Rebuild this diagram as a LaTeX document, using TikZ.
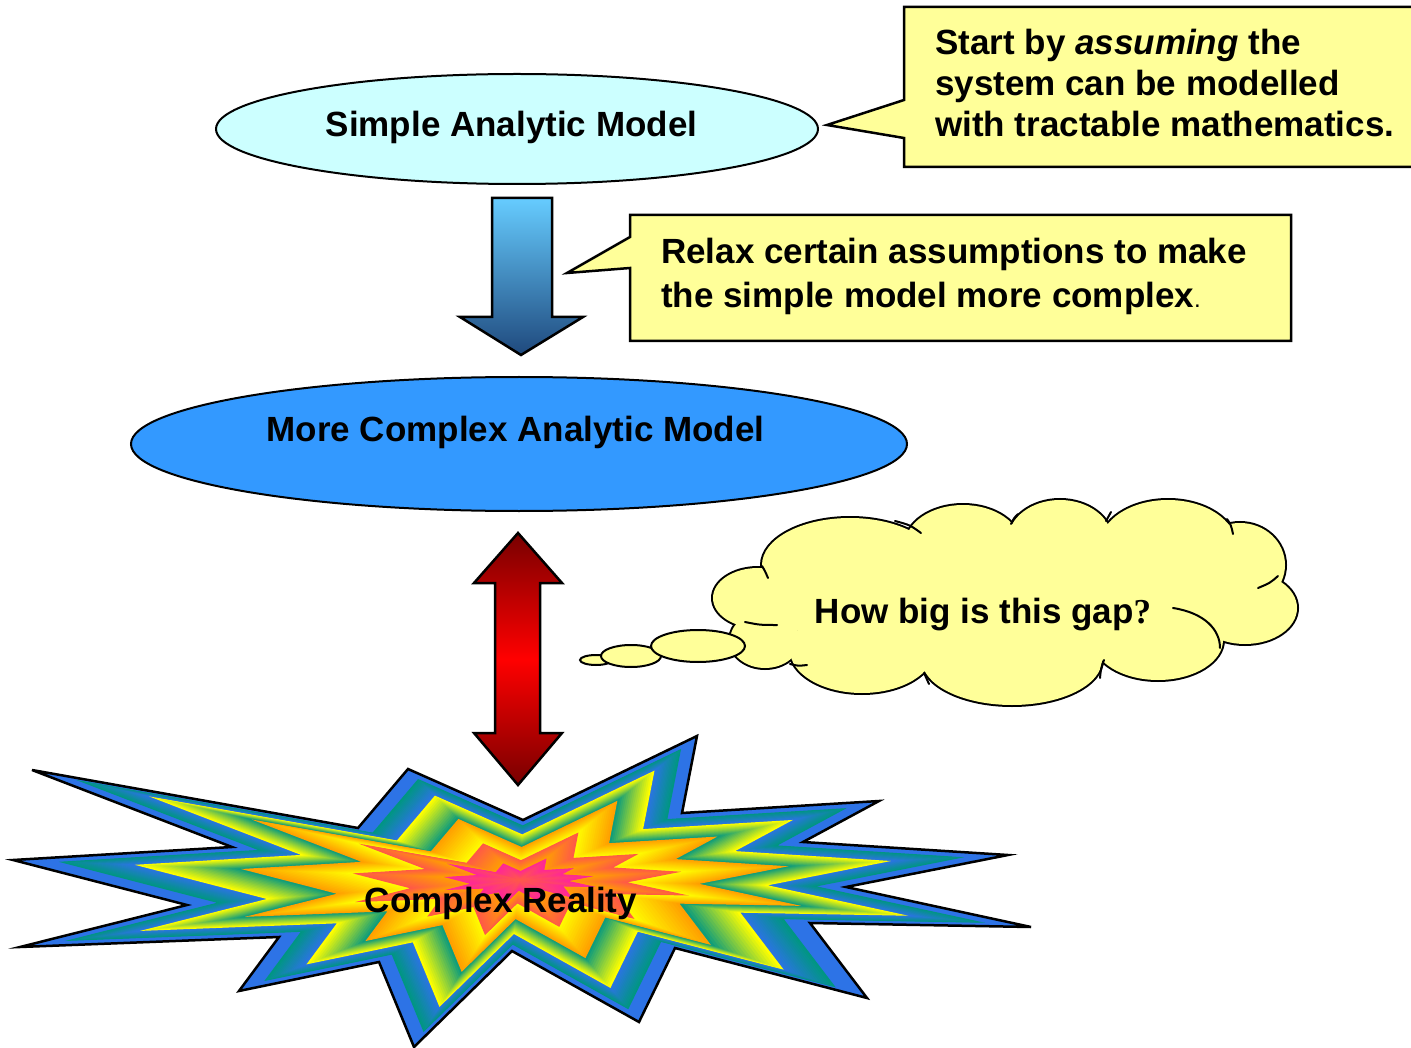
\documentclass[tikz,border=0pt]{standalone}
\usepackage{fontspec}
\setmainfont{Liberation Sans}
\newfontfamily\serifq{Liberation Serif}
\usetikzlibrary{shapes.geometric}
\definecolor{lightcyan}{RGB}{204,255,255}
\definecolor{midblue}{RGB}{51,153,255}
\definecolor{noteyellow}{RGB}{255,255,153}
\definecolor{arrowtop}{RGB}{102,204,255}
\definecolor{arrowbot}{RGB}{31,73,125}
\definecolor{darkred}{RGB}{120,0,0}
\definecolor{cBlue}{RGB}{45,115,230}
\definecolor{cTeal}{RGB}{0,150,130}
\definecolor{cYellow}{RGB}{255,255,0}
\definecolor{cOrange}{RGB}{255,160,0}
\definecolor{cRed}{RGB}{255,90,70}
\definecolor{cPink}{RGB}{255,40,150}
\tikzset{
  txt/.style={font=\fontsize{35}{41}\selectfont\bfseries, inner sep=0pt},
  oval/.style={ellipse, draw=black, line width=2pt, inner sep=0pt},
  notebox/.style={fill=noteyellow, draw=black, line width=2.5pt, line join=miter},
  bubble/.style={ellipse, fill=noteyellow, draw=black, line width=2pt, inner sep=0pt},
  cloudline/.style={draw=black, line width=2pt, line cap=round},
}
\begin{document}
\begin{tikzpicture}[x=1pt,y=-1pt]
\useasboundingbox (0,0) rectangle (1411,1048);

% top callout
\fill[noteyellow] (904,7) -- (1411,7) -- (1411,167) -- (904,167) -- (904,138) -- (827,125) -- (904,100) -- cycle;
\draw[line width=2.5pt, line join=miter] (1412,7) -- (904,7) -- (904,100) -- (827,125) -- (904,138) -- (904,167) -- (1412,167);
\node[txt, anchor=north west, align=left] (note1) at (935,29)
  {Start by \textit{assuming} the\\system can be modelled\\with tractable mathematics.};

% simple model
\node[oval, fill=lightcyan, minimum width=602pt, minimum height=110pt] (simple) at (517,129) {};
\node[txt, anchor=base] (simpletxt) at (511.5,137) {Simple Analytic Model};

% blue arrow
\shade[top color=arrowtop, bottom color=arrowbot, draw=black, line width=2.5pt, line join=miter]
  (492,198) -- (552,198) -- (552,317) -- (583,317) -- (521,355) -- (460,317) -- (492,317) -- cycle;

% second callout
\draw[notebox] (630,215) -- (1291,215) -- (1291,341) -- (630,341) -- (630,268) -- (567,273) -- (630,237) -- cycle;
\node[txt, anchor=north west, align=left, font=\fontsize{35}{44}\selectfont\bfseries] (note2) at (661,238)
  {Relax certain assumptions to make\\the simple model more complex{\mdseries\fontsize{24}{24}\selectfont.}};

% more complex model
\node[oval, fill=midblue, minimum width=776pt, minimum height=134pt] (complex) at (519,444) {};
\node[txt, anchor=base] (complextxt) at (515.5,441) {More Complex Analytic Model};

% red double arrow
\shade[top color=darkred, bottom color=darkred, middle color=red, draw=black, line width=2.5pt, line join=miter]
  (518,533) -- (562,583) -- (540,583) -- (540,733) -- (562,733) -- (518,785) -- (474,733) -- (495,733) -- (495,583) -- (474,583) -- cycle;

% cloud: union of puffs
\def\puffs{758/598/45/30, 850/565/88/47, 963/545/58/40, 1060/540/52/40, 1168/545/68/45, 1240/565/45/42, 1245/608/52/36, 1158/640/65/40, 1012/660/90/45, 862/650/72/43, 765/640/35/28}
\foreach \cx/\cy/\rx/\ry in \puffs { \draw[line width=4pt] (\cx,\cy) ellipse [x radius=\rx pt, y radius=\ry pt]; }
\foreach \cx/\cy/\rx/\ry in \puffs { \fill[noteyellow] (\cx,\cy) ellipse [x radius=\rx pt, y radius=\ry pt]; }
\fill[noteyellow] (1005,600) ellipse [x radius=240pt, y radius=60pt];
% inner strokes of the cloud
\draw[cloudline] (762,566) .. controls (765,571) .. (768,578);
\draw[cloudline] (745,622) .. controls (760,625) .. (777,625);
\draw[cloudline] (895,521) .. controls (910,525) .. (921,533);
\draw[cloudline] (1018,514) .. controls (1014,518) .. (1011,524);
\draw[cloudline] (1111,512) .. controls (1108,516) .. (1106,521);
\draw[cloudline] (1227,519) .. controls (1231,525) .. (1233,534);
\draw[cloudline] (1278,576) .. controls (1270,583) .. (1258,588);
\draw[cloudline] (1173,608) .. controls (1205,613) and (1220,630) .. (1220,648);
\draw[cloudline] (1104,660) .. controls (1101,668) .. (1100,678);
\draw[cloudline] (924,673) .. controls (926,678) .. (929,684);
\draw[cloudline] (790,664) .. controls (798,666) .. (807,665);
% thought bubbles
\node[bubble, minimum width=32pt, minimum height=10pt] (b3) at (596,660) {};
\node[bubble, minimum width=60pt, minimum height=22pt] (b2) at (631,656) {};
\node[bubble, minimum width=94pt, minimum height=32pt] (b1) at (698,646) {};
\node[txt, anchor=base] (gaptxt) at (983,623) {How big is this gap{\serifq\bfseries ?}};

% starburst
\foreach \sa/\sb/\ca/\cb in {1/0.91/cBlue/cBlue, 0.91/0.76/cBlue/cTeal, 0.76/0.55/cTeal/cYellow, 0.55/0.33/cYellow/cOrange, 0.33/0.15/cOrange/cRed, 0.15/0.0/cRed/cPink}{
  \foreach \k in {0,...,15}{
    \pgfmathsetmacro\s{\sa+(\sb-\sa)*\k/16}
    \pgfmathsetmacro\p{100-100*\k/16}
    \begin{scope}[shift={(520,880)}, scale=\s]
      \fill[\cb!\p!\ca] (-488,-110) -- (-162,-52) -- (-112,-111) -- (3,-60) -- (177,-144) -- (162,-67) -- (359,-79) -- (283,-38) -- (488,-25) -- (326,7) -- (511,47) -- (290,43) -- (347,118) -- (155,68) -- (119,142) -- (-8,71) -- (-106,167) -- (-141,82) -- (-281,111) -- (-241,57) -- (-500,67) -- (-333,25) -- (-507,-20) -- (-288,-33) -- cycle;
    \end{scope}
  }
}
\begin{scope}[shift={(520,880)}]
  \draw[line width=2.5pt, line join=miter] (-488,-110) -- (-162,-52) -- (-112,-111) -- (3,-60) -- (177,-144) -- (162,-67) -- (359,-79) -- (283,-38) -- (488,-25) -- (326,7) -- (511,47) -- (290,43) -- (347,118) -- (155,68) -- (119,142) -- (-8,71) -- (-106,167) -- (-141,82) -- (-281,111) -- (-241,57) -- (-500,67) -- (-333,25) -- (-507,-20) -- (-288,-33) -- cycle;
\end{scope}
\node[txt, anchor=base] (realitytxt) at (501,912) {Complex Reality};
\end{tikzpicture}
\end{document}
